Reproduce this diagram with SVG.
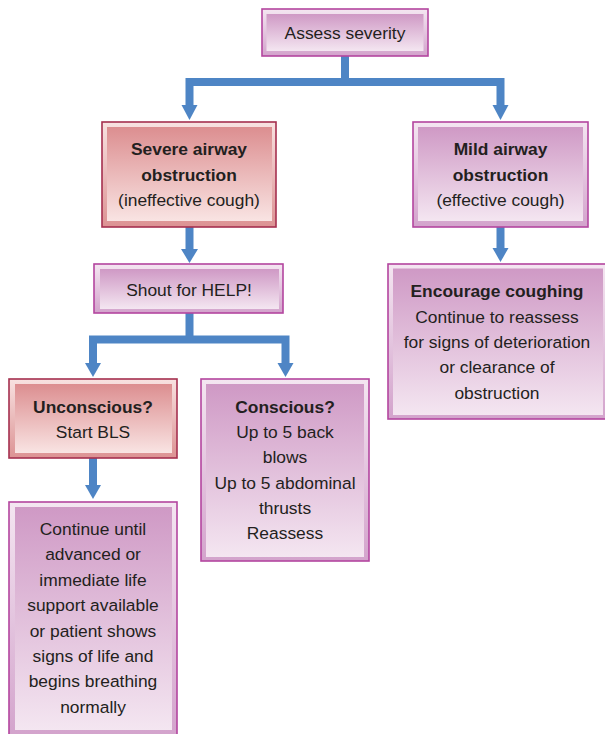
<svg xmlns="http://www.w3.org/2000/svg" width="605" height="734" viewBox="0 0 605 734">
  <defs>
    <linearGradient id="purpleFrame" x1="0" y1="0" x2="0" y2="1">
      <stop offset="0" stop-color="#f4e6f1"/>
      <stop offset="1" stop-color="#d3a3cc"/>
    </linearGradient>
    <linearGradient id="purpleFace" x1="0" y1="0" x2="0" y2="1">
      <stop offset="0" stop-color="#cf99c5"/>
      <stop offset="1" stop-color="#f4e6f1"/>
    </linearGradient>
    <linearGradient id="redFrame" x1="0" y1="0" x2="0" y2="1">
      <stop offset="0" stop-color="#f8e2e1"/>
      <stop offset="1" stop-color="#dc9293"/>
    </linearGradient>
    <linearGradient id="redFace" x1="0" y1="0" x2="0" y2="1">
      <stop offset="0" stop-color="#dc8e90"/>
      <stop offset="1" stop-color="#f9e4e3"/>
    </linearGradient>
    <style>
      .pframe { fill: url(#purpleFrame); stroke: #b3459f; stroke-width: 1.6; }
      .pface { fill: url(#purpleFace); }
      .rframe { fill: url(#redFrame); stroke: #a5304f; stroke-width: 1.6; }
      .rface { fill: url(#redFace); }
      text { font-family: "Liberation Sans", Arial, sans-serif; font-size: 17.4px; fill: #231f20; text-anchor: middle; }
      .b { font-weight: bold; }
      .link { fill: none; stroke: #4e85c5; stroke-width: 8; stroke-linejoin: miter; }
      .head { fill: #4e85c5; }
    </style>
  </defs>
  <rect width="605" height="734" fill="#ffffff"/>

  <!-- connectors -->
  <g id="connectors">
    <path class="link" d="M345 56 V82 M189.5 106 V82 H500.5 V106"/>
    <polygon class="head" points="181.5,105 197.5,105 189.5,120"/>
    <polygon class="head" points="492.5,105 508.5,105 500.5,120"/>

    <path class="link" d="M189.5 227 V250"/>
    <polygon class="head" points="181,249 198,249 189.5,263"/>

    <path class="link" d="M189.5 313 V339.5 M93 364 V339.5 H285.5 V364"/>
    <polygon class="head" points="85,363 101,363 93,377"/>
    <polygon class="head" points="277.5,363 293.5,363 285.5,377"/>

    <path class="link" d="M93 458 V486"/>
    <polygon class="head" points="85,485 101,485 93,499"/>

    <path class="link" d="M500.5 227 V249"/>
    <polygon class="head" points="492.5,248 508.5,248 500.5,262"/>
  </g>

  <g id="assess">
    <rect class="pframe" x="262" y="9" width="166" height="47"/>
    <rect class="pface" x="266.5" y="14" width="157" height="37"/>
    <text x="345" y="39">Assess severity</text>
  </g>

  <g id="severe">
    <rect class="rframe" x="102" y="122" width="174" height="105"/>
    <rect class="rface" x="107" y="127" width="165" height="94"/>
    <text x="189" y="155" class="b">Severe airway</text>
    <text x="189" y="181" class="b">obstruction</text>
    <text x="189" y="206">(ineffective cough)</text>
  </g>

  <g id="mild">
    <rect class="pframe" x="413" y="122" width="175" height="105"/>
    <rect class="pface" x="418" y="127" width="165" height="94"/>
    <text x="500.5" y="155" class="b">Mild airway</text>
    <text x="500.5" y="181" class="b">obstruction</text>
    <text x="500.5" y="206">(effective cough)</text>
  </g>

  <g id="shout">
    <rect class="pframe" x="94" y="264" width="189" height="49"/>
    <rect class="pface" x="100" y="269" width="179" height="40"/>
    <text x="189" y="296">Shout for HELP!</text>
  </g>

  <g id="encourage">
    <rect class="pframe" x="388" y="264" width="220" height="155"/>
    <rect class="pface" x="393" y="268.5" width="210" height="146.5"/>
    <text x="497" y="297" class="b">Encourage coughing</text>
    <text x="497" y="323">Continue to reassess</text>
    <text x="497" y="348">for signs of deterioration</text>
    <text x="497" y="373">or clearance of</text>
    <text x="497" y="399">obstruction</text>
  </g>

  <g id="unconscious">
    <rect class="rframe" x="9" y="379" width="168" height="79"/>
    <rect class="rface" x="15" y="384" width="157" height="69"/>
    <text x="93" y="413" class="b">Unconscious?</text>
    <text x="93" y="438">Start BLS</text>
  </g>

  <g id="conscious">
    <rect class="pframe" x="201" y="379" width="168" height="182"/>
    <rect class="pface" x="206" y="384" width="158" height="173"/>
    <text x="285" y="413" class="b">Conscious?</text>
    <text x="285" y="438">Up to 5 back</text>
    <text x="285" y="463">blows</text>
    <text x="285" y="488.5">Up to 5 abdominal</text>
    <text x="285" y="513.5">thrusts</text>
    <text x="285" y="539">Reassess</text>
  </g>

  <g id="continue">
    <rect class="pframe" x="9" y="502" width="168" height="234"/>
    <rect class="pface" x="15" y="507" width="157" height="223"/>
    <text x="93" y="535">Continue until</text>
    <text x="93" y="560">advanced or</text>
    <text x="93" y="586">immediate life</text>
    <text x="93" y="611">support available</text>
    <text x="93" y="637">or patient shows</text>
    <text x="93" y="662">signs of life and</text>
    <text x="93" y="687">begins breathing</text>
    <text x="93" y="713">normally</text>
  </g>
</svg>
